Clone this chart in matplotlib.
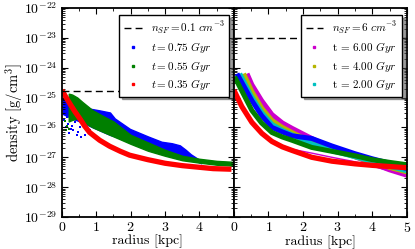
import numpy as np
import matplotlib
matplotlib.use("Agg")
import matplotlib.pyplot as plt
from matplotlib.lines import Line2D
from matplotlib.ticker import MultipleLocator, NullFormatter, FixedLocator

plt.rcParams['mathtext.fontset'] = 'cm'
plt.rcParams['font.family'] = 'serif'
plt.rcParams['font.serif'] = ['cmr10', 'DejaVu Serif']
plt.rcParams['axes.formatter.use_mathtext'] = True
plt.rcParams['axes.unicode_minus'] = False

# ---------------- data (log10 density [g/cm^3]) ----------------
n_sf_left = 1.67e-25
n_sf_right = 1.0e-23

# left panel
blue_r = [0.03, 0.3, 0.52, 0.81, 1.1, 1.4, 1.54, 1.98, 2.5, 2.9, 3.2, 3.43, 3.6, 3.75, 3.95, 4.05]
blue_up = [-25.0, -25.0, -25.2, -25.37, -25.43, -25.5, -25.7, -26.05, -26.3, -26.48, -26.53, -26.6, -26.75, -26.9, -27.05, -27.2]
blue_lo = [-25.55, -25.7, -25.8, -25.95, -26.1, -26.25, -26.3, -26.5, -26.7, -26.85, -26.95, -27.0, -27.05, -27.1, -27.15, -27.2]
blue_dots_r = [0.09, 0.14, 0.28, 0.33, 0.47, 0.57, 0.67, 0.81, 0.38, 0.18, 0.04, 0.23, 0.12, 0.3, 0.52, 0.06, 0.2, 0.44]
blue_dots_l = [-25.43, -25.66, -26.04, -26.1, -26.16, -26.32, -26.27, -26.1, -25.82, -25.88, -25.32, -25.71,
               -26.0, -25.95, -26.0, -25.75, -26.2, -26.25]

green_r = [0.2, 0.3, 0.45, 0.6, 0.9, 1.2, 1.5, 2.0, 2.5, 3.0, 3.5, 4.0, 4.5, 4.95]
green_up = [-24.87, -24.9, -25.0, -25.15, -25.43, -25.62, -25.8, -26.25, -26.5, -26.75, -26.95, -27.05, -27.12, -27.15]
green_lo = [-25.8, -25.75, -25.7, -25.8, -26.0, -26.15, -26.3, -26.55, -26.78, -26.95, -27.1, -27.18, -27.25, -27.28]
green_dots_r = [0.1, 0.15, 0.2, 0.12]
green_dots_l = [-25.8, -25.95, -26.05, -26.1]

red_r = [0.0, 0.1, 0.23, 0.38, 0.52, 0.66, 0.81, 1.1, 1.39, 1.7, 1.97, 2.5, 3.0, 3.5, 3.86, 4.4, 4.93]
red_l = [-24.75, -24.95, -25.2, -25.47, -25.7, -25.95, -26.17, -26.43, -26.63, -26.8, -26.93, -27.08,
         -27.2, -27.28, -27.32, -27.38, -27.4]

# right panel (band centre lines)
mag_r = [0.38, 0.52, 0.8, 1.1, 1.4, 1.68, 2.25, 2.83, 3.5, 4.0, 4.5, 5.0]
mag_l = [-24.2, -24.57, -25.1, -25.57, -25.85, -26.03, -26.37, -26.68, -26.98, -27.2, -27.42, -27.6]
yel_r = [0.28, 0.52, 0.8, 1.1, 1.4, 1.68, 2.25, 2.83, 3.5, 4.0, 4.5, 5.0]
yel_l = [-24.2, -24.8, -25.35, -25.77, -26.0, -26.17, -26.5, -26.75, -26.98, -27.15, -27.35, -27.53]
cyan_r = [0.17, 0.5, 0.8, 1.1, 1.4, 1.68, 2.25, 2.83, 3.5, 4.0, 4.5, 5.0]
cyan_l = [-24.2, -24.95, -25.5, -25.9, -26.1, -26.25, -26.55, -26.78, -26.98, -27.13, -27.3, -27.45]
bl2_r = [0.09, 0.52, 0.8, 1.1, 1.4, 1.68, 2.25, 2.83, 3.5, 4.0, 4.5, 5.0]
bl2_l = [-24.2, -25.1, -25.6, -26.0, -26.15, -26.28, -26.37, -26.62, -26.88, -27.05, -27.2, -27.38]
gr2_r = [0.02, 0.52, 0.8, 1.1, 1.4, 1.68, 2.25, 2.83, 3.5, 4.0, 4.5, 5.0]
gr2_l = [-24.3, -25.43, -25.85, -26.17, -26.32, -26.43, -26.67, -26.8, -26.95, -27.08, -27.17, -27.25]
rd2_r = [0.0, 0.23, 0.52, 0.81, 1.1, 1.4, 1.68, 2.25, 2.83, 3.5, 4.0, 4.5, 5.0]
rd2_l = [-24.75, -25.3, -25.83, -26.2, -26.47, -26.65, -26.77, -27.0, -27.13, -27.22, -27.27, -27.31, -27.35]
pink_r = [1.0, 1.4, 1.68, 2.25, 2.83, 3.5, 4.0, 4.5, 5.0]
pink_l = [-26.35, -26.6, -26.73, -26.86, -27.0, -27.15, -27.3, -27.45, -27.6]

decades = list(range(-29, -21))
labels_left = [r'$n_{SF}=0.1\ cm^{-3}$', r'$t=0.75\ Gyr$', r'$t=0.55\ Gyr$', r'$t=0.35\ Gyr$']
labels_right = [r'$n_{SF}=6\ cm^{-3}$', r't = 6.00 $Gyr$', r't = 4.00 $Gyr$', r't = 2.00 $Gyr$']

MAG = '#cc00cc'
YEL = '#b5b500'
CYA = '#00c0c0'
BLU = '#0000ff'
GRN = '#007f00'
RED = '#ff0000'

# ---------------- figure ----------------
fig = plt.figure(figsize=(4.15, 2.49), dpi=100)
axL = fig.add_axes([0.149, 0.1285, 0.4145, 0.8395])
axR = fig.add_axes([0.5635, 0.1285, 0.4169, 0.8395])

p = lambda a: 10 ** np.array(a, dtype=float)

# left panel
axL.fill_between(blue_r, p(blue_lo), p(blue_up), color=BLU, lw=1.0, edgecolor=BLU)
axL.scatter(blue_dots_r, p(blue_dots_l), s=2, color=BLU, marker='s', lw=0)
axL.fill_between(green_r, p(green_lo), p(green_up), color=GRN, lw=1.0, edgecolor=GRN)
axL.scatter(green_dots_r, p(green_dots_l), s=2, color=GRN, marker='s', lw=0)
axL.plot(red_r, p(red_l), color=RED, lw=3.8, solid_capstyle='butt')
axL.axhline(n_sf_left, color='k', ls=(0, (5, 3)), lw=1.0)

# right panel
for rr, ll, c in [(mag_r, mag_l, MAG), (yel_r, yel_l, YEL), (cyan_r, cyan_l, CYA),
                  (bl2_r, bl2_l, BLU), (gr2_r, gr2_l, GRN)]:
    axR.plot(rr, p(ll), color=c, lw=3.6, solid_capstyle='butt')
axR.plot(pink_r, p(pink_l), color=MAG, lw=1.0)
axR.plot(rd2_r, p(rd2_l), color=RED, lw=3.8, solid_capstyle='butt')
axR.axhline(n_sf_right, color='k', ls=(0, (5, 3)), lw=1.0)

major_y = [10.0 ** k for k in decades]
minor_y = [m * 10.0 ** k for k in decades[:-1] for m in range(2, 10)]

for ax in (axL, axR):
    ax.set_yscale('log')
    ax.set_ylim(1e-29, 1e-22)
    ax.set_xlim(0, 5)
    ax.xaxis.set_major_locator(MultipleLocator(1))
    ax.xaxis.set_minor_locator(MultipleLocator(0.5))
    ax.yaxis.set_major_locator(FixedLocator(major_y))
    ax.yaxis.set_minor_locator(FixedLocator(minor_y))
    ax.yaxis.set_minor_formatter(NullFormatter())
    ax.tick_params(which='both', direction='in', top=True, right=True, labelsize=10, pad=3)
    ax.tick_params(which='major', length=4, width=0.8)
    ax.tick_params(which='minor', length=2, width=0.6)
    for s in ax.spines.values():
        s.set_linewidth(1.3)
    ax.set_xlabel('radius [kpc]', fontsize=10, labelpad=0.5)

axL.set_xticks([0, 1, 2, 3, 4])
axL.set_xlim(0, 5)
axL.set_ylabel('density [g/cm$^3$]', fontsize=10.5, labelpad=-1)
axR.yaxis.set_major_formatter(NullFormatter())

def handles(cols):
    h = [Line2D([], [], color='k', ls=(0, (5, 3)), lw=1.0)]
    for c in cols:
        h.append(Line2D([], [], color=c, marker='s', ms=1.5, ls='none'))
    return h

common = dict(loc='upper right', bbox_to_anchor=(0.985, 0.975), fontsize=8, frameon=True,
              shadow=True, fancybox=False, edgecolor='k', handlelength=1.6, borderpad=0.4,
              labelspacing=0.32, handletextpad=0.8, borderaxespad=0.2)
legL = axL.legend(handles([BLU, '#008000', RED]), labels_left, **common)
legR = axR.legend(handles([MAG, YEL, CYA]), labels_right, **common)
for lg in (legL, legR):
    lg.get_frame().set_linewidth(1.0)

fig.savefig('out.png', dpi=100)
